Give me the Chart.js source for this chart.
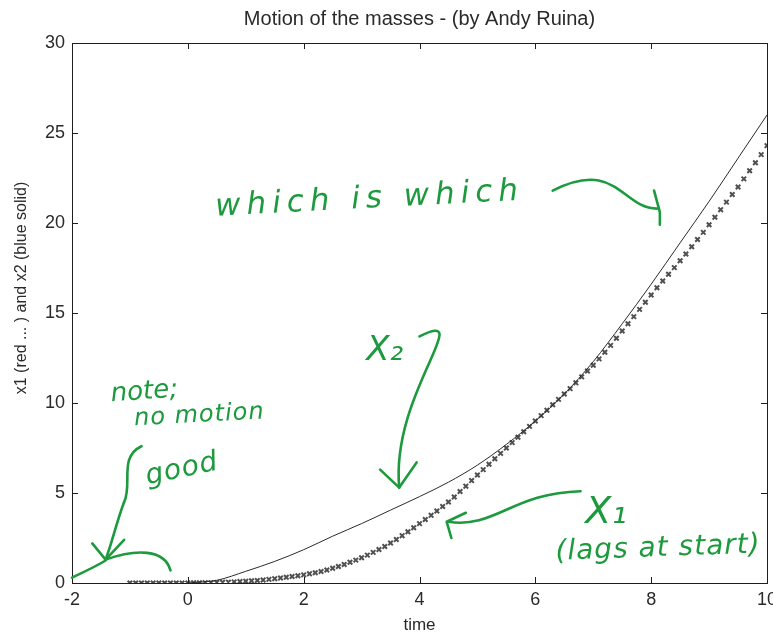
<!DOCTYPE html>
<html>
<head>
<meta charset="utf-8">
<script src="https://cdn.jsdelivr.net/npm/chart.js@4"></script>
<style>
  html, body { margin: 0; padding: 0; background: #fff; }
  #wrap { width: 773px; height: 636px; }
</style>
</head>
<body>
<div id="wrap"><canvas id="chart"></canvas></div>
<script>
// Data
const xTicks = [-2, 0, 2, 4, 6, 8, 10]
const yTicks = [0, 5, 10, 15, 20, 25, 30]
const yLabel = 'x1 (red ... ) and x2 (blue solid)'

// x2, blue solid
const x2Times = [0, 0.5, 1, 1.5, 2, 2.5, 3, 3.5, 4, 4.5, 5, 5.5, 6, 6.5, 7, 7.5, 8, 8.5, 9, 9.5, 10]
const x2Values = [0, 0.15, 0.65, 1.2, 1.85, 2.6, 3.3, 4.05, 4.8, 5.6, 6.55, 7.7, 9.0, 10.5, 12.3, 14.4, 16.6, 18.9, 21.2, 23.6, 26.0]

// x1, red dotted markers
const x1Times = [
  -1.0, -0.9, -0.8, -0.7, -0.6, -0.5, -0.4, -0.3, -0.2, -0.1,
  0.0, 0.1, 0.2, 0.3, 0.4, 0.5, 0.6, 0.7, 0.8, 0.9,
  1.0, 1.1, 1.2, 1.3, 1.4, 1.5, 1.6, 1.7, 1.8, 1.9,
  2.0, 2.1, 2.2, 2.3, 2.4, 2.5, 2.6, 2.7, 2.8, 2.9,
  3.0, 3.1, 3.2, 3.3, 3.4, 3.5, 3.6, 3.7, 3.8, 3.9,
  4.0, 4.1, 4.2, 4.3, 4.4, 4.5, 4.6, 4.7, 4.8, 4.9,
  5.0, 5.1, 5.2, 5.3, 5.4, 5.5, 5.6, 5.7, 5.8, 5.9,
  6.0, 6.1, 6.2, 6.3, 6.4, 6.5, 6.6, 6.7, 6.8, 6.9,
  7.0, 7.1, 7.2, 7.3, 7.4, 7.5, 7.6, 7.7, 7.8, 7.9,
  8.0, 8.1, 8.2, 8.3, 8.4, 8.5, 8.6, 8.7, 8.8, 8.9,
  9.0, 9.1, 9.2, 9.3, 9.4, 9.5, 9.6, 9.7, 9.8, 9.9,
  10.0
]
const x1Values = [
  0, 0, 0, 0, 0, 0, 0, 0, 0, 0,
  0, 0.01, 0.01, 0.02, 0.02, 0.03, 0.04, 0.05, 0.06, 0.08,
  0.10, 0.12, 0.14, 0.17, 0.20, 0.24, 0.28, 0.32, 0.36, 0.40,
  0.45, 0.51, 0.57, 0.64, 0.72, 0.82, 0.92, 1.03, 1.15, 1.27,
  1.40, 1.55, 1.70, 1.86, 2.03, 2.22, 2.42, 2.63, 2.85, 3.07,
  3.30, 3.53, 3.76, 4.00, 4.25, 4.50, 4.78, 5.08, 5.38, 5.69,
  6.00, 6.30, 6.60, 6.90, 7.20, 7.50, 7.80, 8.10, 8.40, 8.70,
  9.00, 9.30, 9.60, 9.90, 10.20, 10.50, 10.80, 11.12, 11.45, 11.78,
  12.10, 12.45, 12.82, 13.20, 13.60, 14.00, 14.40, 14.80, 15.20, 15.60,
  16.00, 16.40, 16.78, 17.15, 17.52, 17.90, 18.28, 18.68, 19.08, 19.48,
  19.90, 20.32, 20.74, 21.16, 21.58, 22.00, 22.45, 22.90, 23.35, 23.80,
  24.30
]

// handwritten notes, placed in data coordinates
const noteTexts = [
  {text: 'which is which', t: 3.14, v: 21.3, size: 31, rot: -3, spacing: 6},
  {text: 'X₂', t: 3.4, v: 12.9, size: 34, rot: 0, spacing: 0},
  {text: 'note;', t: -0.75, v: 10.6, size: 26, rot: -4, spacing: 0},
  {text: 'no motion', t: 0.2, v: 9.3, size: 24, rot: -3, spacing: 1},
  {text: 'good', t: -0.1, v: 6.3, size: 28, rot: -12, spacing: 1},
  {text: 'X₁', t: 7.22, v: 3.9, size: 38, rot: 0, spacing: 0},
  {text: '(lags at start)', t: 8.12, v: 1.9, size: 28, rot: -2, spacing: 1}
]

// pen strokes: cubic curves [start, c1, c2, end] in [t, value]
const noteStrokes = [
  [[6.3, 21.8], [7.4, 23.6], [7.5, 20.8], [8.1, 20.8]],
  [[4.0, 13.7], [5.0, 15.3], [3.5, 10.5], [3.65, 5.3]],
  [[-0.8, 7.6], [-1.2, 7.0], [-0.95, 5.5], [-1.1, 4.5]],
  [[-1.1, 4.5], [-1.25, 3.2], [-1.3, 2.3], [-1.42, 1.3]],
  [[-1.42, 1.3], [-0.9, 1.9], [-0.4, 1.9], [-0.3, 0.7]],
  [[-2.0, 0.3], [-1.8, 0.6], [-1.6, 0.9], [-1.42, 1.25]],
  [[6.78, 5.1], [5.6, 5.0], [5.3, 3.0], [4.5, 3.4]]
]
// arrow heads: [tip, arm1, arm2]
const noteHeads = [
  [[8.15, 20.6], [8.05, 21.8], [8.15, 19.9]],
  [[3.65, 5.3], [3.32, 6.3], [3.95, 6.7]],
  [[-1.42, 1.3], [-1.65, 2.2], [-1.1, 2.4]],
  [[4.47, 3.4], [4.8, 3.9], [4.55, 2.5]]
]

const green = '#1d9a3e'
const textColor = '#2a2a2a'
const fontFamily = '"Liberation Sans", Arial, sans-serif'

const framePlugin = {
  id: 'frame',
  afterDatasetsDraw(chart) {
    const {ctx, chartArea: a, scales: {x, y}} = chart
    ctx.save()
    ctx.strokeStyle = '#1e1e1e'
    ctx.lineWidth = 1
    ctx.strokeRect(Math.round(a.left) + 0.5, Math.round(a.top) + 0.5,
      Math.round(a.width), Math.round(a.height))
    ctx.beginPath()
    xTicks.slice(1, -1).forEach(v => {
      const px = Math.round(x.getPixelForValue(v)) + 0.5
      ctx.moveTo(px, a.bottom); ctx.lineTo(px, a.bottom - 6)
      ctx.moveTo(px, a.top); ctx.lineTo(px, a.top + 6)
    })
    yTicks.slice(1, -1).forEach(v => {
      const py = Math.round(y.getPixelForValue(v)) + 0.5
      ctx.moveTo(a.left, py); ctx.lineTo(a.left + 6, py)
      ctx.moveTo(a.right, py); ctx.lineTo(a.right - 6, py)
    })
    ctx.stroke()

    // y axis label, sits a bit above the axis middle in the scan
    ctx.translate(22, y.getPixelForValue(15) - 25)
    ctx.rotate(-Math.PI / 2)
    ctx.fillStyle = textColor
    ctx.font = `16px ${fontFamily}`
    ctx.textAlign = 'center'
    ctx.textBaseline = 'middle'
    ctx.fillText(yLabel, 0, 0)
    ctx.restore()
  }
}

const notesPlugin = {
  id: 'notes',
  afterDraw(chart) {
    const {ctx, scales: {x, y}} = chart
    const P = p => [x.getPixelForValue(p[0]), y.getPixelForValue(p[1])]
    ctx.save()
    ctx.strokeStyle = green
    ctx.fillStyle = green
    ctx.lineWidth = 2.6
    ctx.lineCap = 'round'
    ctx.lineJoin = 'round'

    noteStrokes.forEach(s => {
      const [p0, p1, p2, p3] = s.map(P)
      ctx.beginPath()
      ctx.moveTo(p0[0], p0[1])
      ctx.bezierCurveTo(p1[0], p1[1], p2[0], p2[1], p3[0], p3[1])
      ctx.stroke()
    })
    noteHeads.forEach(h => {
      const [tip, a1, a2] = h.map(P)
      ctx.beginPath()
      ctx.moveTo(a1[0], a1[1]); ctx.lineTo(tip[0], tip[1]); ctx.lineTo(a2[0], a2[1])
      ctx.stroke()
    })

    noteTexts.forEach(n => {
      const [px, py] = P([n.t, n.v])
      ctx.save()
      ctx.translate(px, py)
      ctx.rotate(n.rot * Math.PI / 180)
      ctx.font = `italic ${n.size}px "DejaVu Sans", sans-serif`
      ctx.letterSpacing = n.spacing + 'px'
      ctx.textAlign = 'center'
      ctx.textBaseline = 'middle'
      ctx.fillText(n.text, 0, 0)
      ctx.restore()
    })
    ctx.restore()
  }
}

const axisFont = {family: fontFamily, size: 18}

const config = {
  type: 'scatter',
  data: {
    datasets: [
      {
        label: 'x2',
        data: x2Times.map((t, i) => ({x: t, y: x2Values[i]})),
        showLine: true,
        borderColor: '#2a2a2a',
        borderWidth: 1,
        pointRadius: 0,
        cubicInterpolationMode: 'monotone'
      },
      {
        label: 'x1',
        data: x1Times.map((t, i) => ({x: t, y: x1Values[i]})),
        showLine: false,
        pointStyle: 'crossRot',
        pointRadius: 3.2,
        borderWidth: 2,
        borderColor: '#505050',
        backgroundColor: '#505050'
      }
    ]
  },
  options: {
    responsive: true,
    maintainAspectRatio: false,
    animation: false,
    layout: {padding: {left: 0, right: 5, top: 2, bottom: 0}},
    plugins: {
      legend: {display: false},
      tooltip: {enabled: false},
      title: {
        display: true,
        text: 'Motion of the masses - (by Andy Ruina)',
        fullSize: false,
        color: textColor,
        font: {family: fontFamily, size: 20, weight: 'normal'},
        padding: {top: 5, bottom: 12}
      }
    },
    scales: {
      x: {
        type: 'linear',
        min: -2,
        max: 10,
        afterFit: s => { s.height = 53; s.paddingLeft = 0; s.paddingRight = 0 },
        afterBuildTicks: s => { s.ticks = xTicks.map(v => ({value: v})) },
        grid: {display: false, drawTicks: false},
        border: {display: false},
        ticks: {color: textColor, font: axisFont, padding: 6, maxRotation: 0},
        title: {
          display: true,
          text: 'time',
          color: textColor,
          font: {family: fontFamily, size: 17},
          padding: {top: 0, bottom: 0}
        }
      },
      y: {
        min: 0,
        max: 30,
        afterFit: s => { s.width = 72 },
        afterBuildTicks: s => { s.ticks = yTicks.map(v => ({value: v})) },
        grid: {display: false, drawTicks: false},
        border: {display: false},
        ticks: {color: textColor, font: axisFont, padding: 7}
      }
    }
  },
  plugins: [framePlugin, notesPlugin]
}

new Chart(document.getElementById('chart'), config)
</script>
</body>
</html>
